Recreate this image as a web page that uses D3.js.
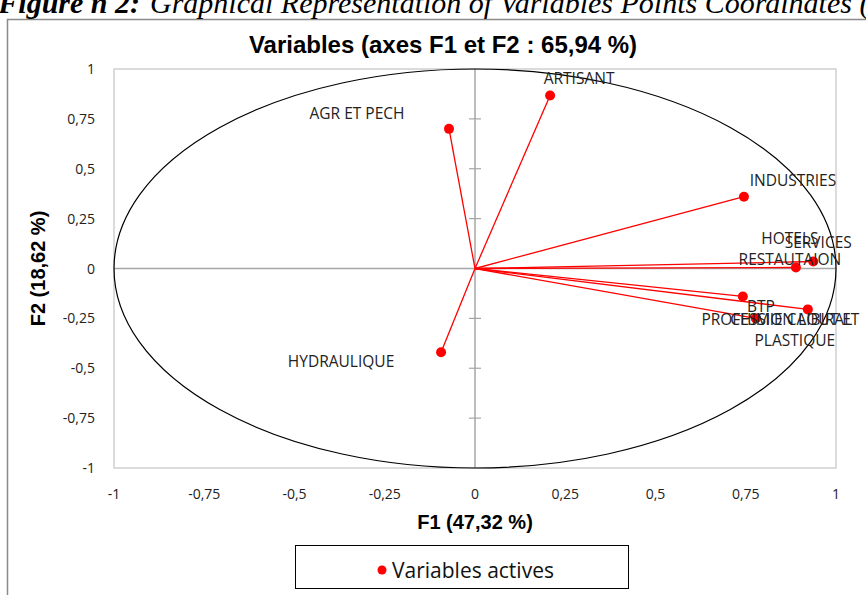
<!DOCTYPE html>
<html>
<head>
<meta charset="utf-8">
<script src="https://cdn.jsdelivr.net/npm/d3@7"></script>
<style>
  body { margin: 0; background: #fff; }
  svg { display: block; }
</style>
</head>
<body>
<svg width="866" height="595"></svg>
<script>
const names = ["AGR ET PECH", "ARTISANT", "INDUSTRIES", "HOTELS\nRESTAUTAION", "SERVICES",
  "BTP", "CHIMIE CAOUT ET\nPLASTIQUE", "PROFESSION LIBIRAL", "HYDRAULIQUE"];
const f1 = [-0.072, 0.208, 0.745, 0.889, 0.937, 0.742, 0.922, 0.778, -0.094];
const f2 = [0.70, 0.867, 0.36, 0.005, 0.035, -0.14, -0.205, -0.25, -0.42];
const ticks = [-1, -0.75, -0.5, -0.25, 0, 0.25, 0.5, 0.75, 1];

// label placement relative to each point (pixels)
const labelShift = [[-92, -10], [29, -12], [49, -11], [-6, -24], [5, -14],
  [18, 16], [-13, 16], [21, 7], [-100, 15]];

const svg = d3.select("svg");
const margin = { top: 69, right: 30, bottom: 127, left: 114 };

const x = d3.scaleLinear().domain([-1, 1]).range([margin.left, 836]);
const y = d3.scaleLinear().domain([-1, 1]).range([468, margin.top]);

const fmt = d => String(d).replace(".", ",");
const font = "'Open Sans', 'DejaVu Sans', sans-serif";
const serif = "'Liberation Serif', 'Times New Roman', serif";

// outer frame and cut-off caption
svg.append("path")
  .attr("d", "M7.5,595 V19.5 H866")
  .attr("fill", "none")
  .attr("stroke", "#8a8a8a")
  .attr("stroke-width", 1.5);

svg.append("text")
  .attr("x", 140)
  .attr("y", 13)
  .attr("text-anchor", "end")
  .attr("font-family", serif)
  .attr("font-style", "italic")
  .attr("font-weight", "bold")
  .attr("font-size", 30)
  .text("Figure n 2:");
svg.append("text")
  .attr("x", 150)
  .attr("y", 13)
  .attr("font-family", serif)
  .attr("font-style", "italic")
  .attr("font-size", 30)
  .text("Graphical Representation of Variables Points Coordinates (F1 and F2)");

// title
svg.append("text")
  .attr("x", 443)
  .attr("y", 53)
  .attr("text-anchor", "middle")
  .attr("font-family", "'Liberation Sans', Arial, sans-serif")
  .attr("font-weight", "bold")
  .attr("font-size", 24)
  .text("Variables (axes F1 et F2 : 65,94 %)");

// plot frame
svg.append("rect")
  .attr("x", x(-1))
  .attr("y", y(1))
  .attr("width", x(1) - x(-1))
  .attr("height", y(-1) - y(1))
  .attr("fill", "none")
  .attr("stroke", "#d0d0d0")
  .attr("stroke-width", 1.5);

// centre axes, vertical one with cross ticks
const grey = "#a6a6a6";
svg.append("line")
  .attr("x1", x(-1)).attr("x2", x(1))
  .attr("y1", y(0)).attr("y2", y(0))
  .attr("stroke", grey).attr("stroke-width", 1.5);
svg.append("line")
  .attr("x1", x(0)).attr("x2", x(0))
  .attr("y1", y(-1)).attr("y2", y(1))
  .attr("stroke", grey).attr("stroke-width", 1.5);

svg.selectAll(".ytick")
  .data(ticks.filter(d => Math.abs(d) < 1 && d !== 0))
  .enter().append("line")
  .attr("x1", x(0) - 6).attr("x2", x(0) + 6)
  .attr("y1", d => y(d)).attr("y2", d => y(d))
  .attr("stroke", grey).attr("stroke-width", 1.2);

// tick labels outside the plot
svg.selectAll(".ylab")
  .data(ticks)
  .enter().append("text")
  .attr("x", 95)
  .attr("y", d => y(d) + 5)
  .attr("text-anchor", "end")
  .attr("font-family", font)
  .attr("font-size", 14)
  .attr("fill", "#222")
  .text(fmt);

svg.selectAll(".xlab")
  .data(ticks)
  .enter().append("text")
  .attr("x", d => x(d))
  .attr("y", 499)
  .attr("text-anchor", "middle")
  .attr("font-family", font)
  .attr("font-size", 14)
  .attr("fill", "#222")
  .text(fmt);

// axis titles
svg.append("text")
  .attr("x", x(0))
  .attr("y", 529)
  .attr("text-anchor", "middle")
  .attr("font-family", "'Liberation Sans', Arial, sans-serif")
  .attr("font-weight", "bold")
  .attr("font-size", 20)
  .text("F1 (47,32 %)");

svg.append("text")
  .attr("transform", `translate(45,${y(0)}) rotate(-90)`)
  .attr("text-anchor", "middle")
  .attr("font-family", "'Liberation Sans', Arial, sans-serif")
  .attr("font-weight", "bold")
  .attr("font-size", 20)
  .text("F2 (18,62 %)");

// correlation circle
svg.append("ellipse")
  .attr("cx", x(0))
  .attr("cy", y(0))
  .attr("rx", x(1) - x(0))
  .attr("ry", y(0) - y(1))
  .attr("fill", "none")
  .attr("stroke", "#000")
  .attr("stroke-width", 1.2);

// vectors
const vars = names.map((n, i) => ({ name: n, f1: f1[i], f2: f2[i], shift: labelShift[i] }));

svg.selectAll(".vec")
  .data(vars)
  .enter().append("line")
  .attr("x1", x(0)).attr("y1", y(0))
  .attr("x2", d => x(d.f1)).attr("y2", d => y(d.f2))
  .attr("stroke", "#ff0000")
  .attr("stroke-width", 1.3);

svg.selectAll(".pt")
  .data(vars)
  .enter().append("circle")
  .attr("cx", d => x(d.f1))
  .attr("cy", d => y(d.f2))
  .attr("r", 5)
  .attr("fill", "#ff0000");

const labels = svg.selectAll(".lab")
  .data(vars)
  .enter().append("text")
  .attr("text-anchor", "middle")
  .attr("font-family", font)
  .attr("font-size", 15.5)
  .attr("fill", "#222");

labels.each(function(d) {
  const t = d3.select(this);
  const cx = x(d.f1) + d.shift[0];
  const cy = y(d.f2) + d.shift[1];
  d.name.split("\n").forEach((line, k) => {
    t.append("tspan")
      .attr("x", cx)
      .attr("y", cy + k * 21)
      .text(line);
  });
});

// legend
svg.append("rect")
  .attr("x", 295.5).attr("y", 545.5)
  .attr("width", 333).attr("height", 43)
  .attr("fill", "#fff")
  .attr("stroke", "#000")
  .attr("stroke-width", 1);
svg.append("circle")
  .attr("cx", 382).attr("cy", 570)
  .attr("r", 4.5)
  .attr("fill", "#ff0000");
svg.append("text")
  .attr("x", 392).attr("y", 578)
  .attr("font-family", font)
  .attr("font-size", 21)
  .attr("fill", "#111")
  .text("Variables actives");
</script>
</body>
</html>
